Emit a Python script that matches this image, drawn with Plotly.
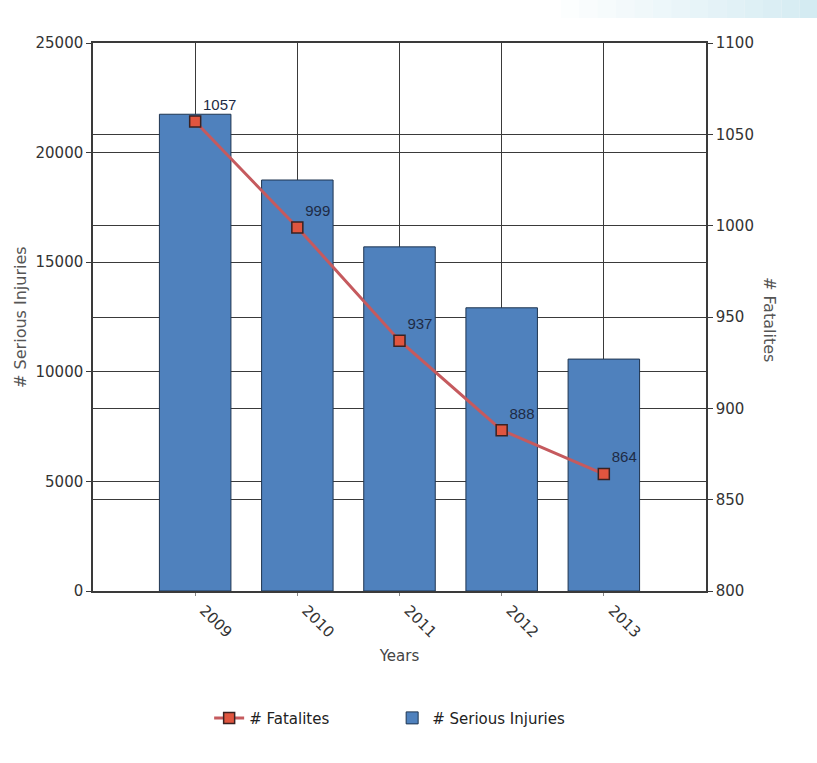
import plotly.graph_objects as go

years = ["2009", "2010", "2011", "2012", "2013"]
serious_injuries = [21750, 18750, 15700, 12920, 10580]
fatalities = [1057, 999, 937, 888, 864]
fatality_labels = [str(v) for v in fatalities]
left_ticks = [0, 5000, 10000, 15000, 20000, 25000]
right_ticks = [800, 850, 900, 950, 1000, 1050, 1100]

FONT = "DejaVu Sans"
GRID = "#3a3a3a"
TICK = "#333333"

fig = go.Figure()

fig.add_trace(go.Scatter(
    x=years, y=fatalities, yaxis="y2", name="# Fatalites",
    mode="lines+markers+text",
    line=dict(color="#C55A5E", width=3),
    marker=dict(symbol="square", size=11, color="#E0553F",
                line=dict(color="#3a2222", width=1.5)),
    text=fatality_labels, textposition="top right",
    textfont=dict(family="Liberation Sans, Arial", size=15, color="#1e2b45"),
    cliponaxis=False,
))

fig.add_trace(go.Bar(
    x=years, y=serious_injuries, name="# Serious Injuries",
    marker=dict(color="#4F81BD", line=dict(color="#1F3550", width=1)),
    width=0.7,
))

# light decorative gradient at top right
shapes = []
n = 14
x0px, x1px = 560, 817
for i in range(n):
    a = (i + 1) / n
    xa = x0px + (x1px - x0px) * i / n
    xb = x0px + (x1px - x0px) * (i + 1) / n
    shapes.append(dict(type="rect", xref="paper", yref="paper",
                       x0=(xa - 93) / 612, x1=(xb - 93) / 612,
                       y0=(591 - 18) / 548, y1=(591 - 0) / 548,
                       fillcolor=f"rgba(205,232,240,{0.85 * a:.3f})",
                       line=dict(width=0), layer="below"))

fig.update_layout(
    width=817, height=763,
    margin=dict(l=93, r=111, t=43, b=172),
    paper_bgcolor="white", plot_bgcolor="white",
    font=dict(family=FONT, size=15, color=TICK),
    showlegend=True,
    legend=dict(orientation="h", x=0.488, xanchor="center", y=-0.232, yanchor="middle",
                font=dict(family=FONT, size=15, color="#222222"),
                entrywidth=138, traceorder="normal"),
    shapes=shapes,
    xaxis=dict(
        type="category", range=[-1, 5],
        showgrid=True, gridcolor=GRID, gridwidth=1.3,
        showline=True, linecolor=GRID, linewidth=1.5, mirror=True,
        ticks="outside", ticklen=3, tickcolor="#888888",
        tickangle=45, tickfont=dict(family=FONT, size=15, color=TICK),
        ticklabelshift=9,
        title=dict(text="Years", font=dict(family=FONT, size=15, color="#444444"), standoff=10),
        zeroline=False,
    ),
    yaxis=dict(
        range=[0, 25000], tickvals=left_ticks, ticktext=[str(v) for v in left_ticks],
        showgrid=True, gridcolor=GRID, gridwidth=1.3,
        showline=True, linecolor=GRID, linewidth=1.5,
        ticks="outside", ticklen=5, tickcolor=GRID,
        tickfont=dict(family=FONT, size=15, color=TICK),
        zeroline=False,
    ),
    yaxis2=dict(
        range=[800, 1100], tickvals=right_ticks, ticktext=[str(v) for v in right_ticks],
        overlaying="y", side="right",
        showgrid=True, gridcolor=GRID, gridwidth=1.3,
        showline=True, linecolor=GRID, linewidth=1.5,
        ticks="outside", ticklen=5, tickcolor=GRID,
        tickfont=dict(family=FONT, size=15, color=TICK),
        zeroline=False,
    ),
    annotations=[
        dict(text="# Serious Injuries", xref="paper", yref="paper",
             x=(20 - 93) / 612, y=(591 - 317) / 548, textangle=-90, showarrow=False,
             xanchor="center", yanchor="middle",
             font=dict(family=FONT, size=16, color="#555555")),
        dict(text="# Fatalites", xref="paper", yref="paper",
             x=(768 - 93) / 612, y=(591 - 319) / 548, textangle=90, showarrow=False,
             xanchor="center", yanchor="middle",
             font=dict(family=FONT, size=16, color="#555555")),
    ],
)

fig.write_html("out.html")
